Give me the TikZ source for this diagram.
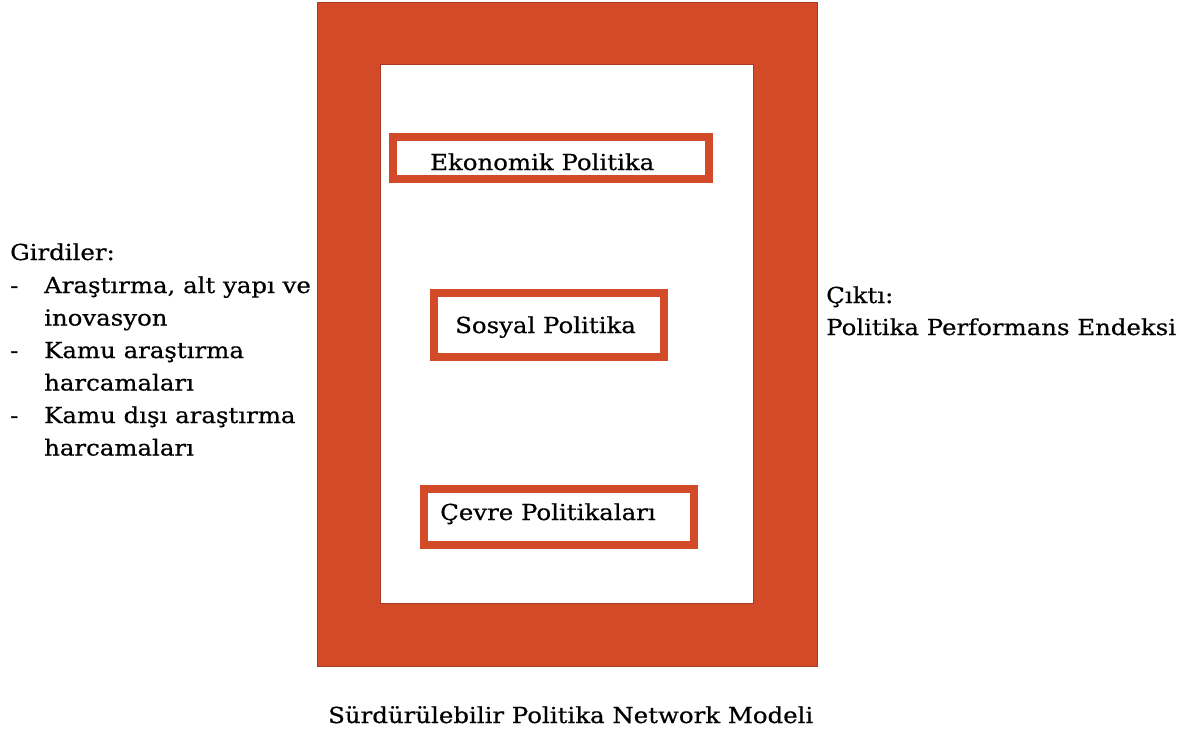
\documentclass[tikz,border=0pt]{standalone}
\usepackage{fontspec}
\setmainfont{DejaVu Serif}[FakeStretch=1.11, FakeBold=0.6]
\definecolor{frame}{HTML}{D24A27}
\definecolor{frameedge}{HTML}{A8391C}
\tikzset{
  txt/.style={anchor=base west, inner sep=0pt, font=\fontsize{22}{26}\selectfont},
  policybox/.style={draw=frame, line width=8pt, fill=white, inner sep=0pt},
}
\begin{document}
\begin{tikzpicture}[x=1pt, y=-1pt]
\useasboundingbox (0,0) rectangle (1192,737);
% outer frame and white panel
\node[draw=frameedge, line width=0.8pt, fill=frame, inner sep=0pt, minimum width=500pt, minimum height=664pt, anchor=north west] (outer) at (317,2) {};
\node[draw=frameedge, line width=0.8pt, fill=white, inner sep=0pt, minimum width=373pt, minimum height=539pt, anchor=north west] (panel) at (380,64) {};
% policy boxes
\node[policybox, minimum width=316pt, minimum height=42pt] (eko) at (551,158) {};
\node[policybox, minimum width=230pt, minimum height=64pt] (sos) at (549,324.5) {};
\node[policybox, minimum width=270pt, minimum height=56pt] (cev) at (558.5,516.5) {};
\node[txt] (ekot) at (430,170) {Ekonomik Politika};
\node[txt] (sost) at (455,333) {Sosyal Politika};
\node[txt] (cevt) at (440,520) {Çevre Politikaları};
% inputs
\node[txt] (gir) at (10,260) {Girdiler:};
\node[txt] (d1) at (10,293) {-};
\node[txt] (i1a) at (44,293) {Araştırma, alt yapı ve};
\node[txt] (i1b) at (44,325.5) {inovasyon};
\node[txt] (d2) at (10,358) {-};
\node[txt] (i2a) at (44,358) {Kamu araştırma};
\node[txt] (i2b) at (44,390.5) {harcamaları};
\node[txt] (d3) at (10,423) {-};
\node[txt] (i3a) at (44,423) {Kamu dışı araştırma};
\node[txt] (i3b) at (44,455.5) {harcamaları};
% output
\node[txt] (cik) at (826,303) {Çıktı:};
\node[txt] (ppe) at (826,335) {Politika Performans Endeksi};
% caption
\node[txt] (cap) at (328,723) {Sürdürülebilir Politika Network Modeli};
\end{tikzpicture}
\end{document}
